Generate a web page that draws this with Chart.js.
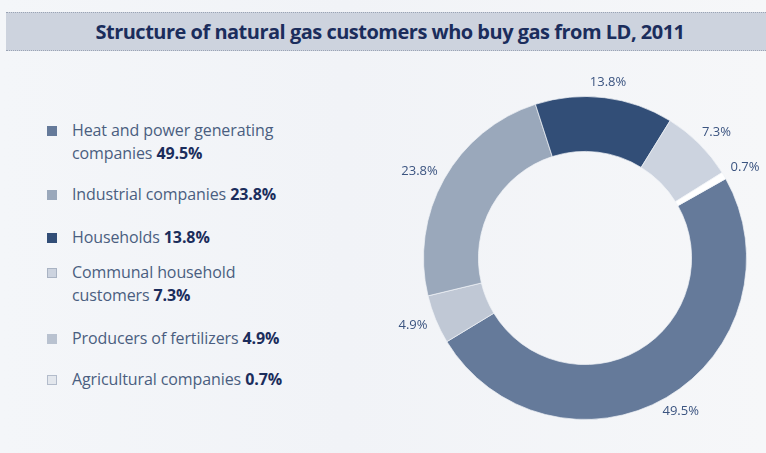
<!DOCTYPE html>
<html>
<head>
<meta charset="utf-8">
<script src="https://cdn.jsdelivr.net/npm/chart.js@4.4.0/dist/chart.umd.min.js"></script>
<style>
  html, body { margin: 0; padding: 0; }
  body {
    width: 766px; height: 453px; overflow: hidden; position: relative;
    background: linear-gradient(90deg, #f4f6f9 0%, #f1f3f7 45%, #f6f7f9 100%);
    font-family: "Open Sans", sans-serif;
  }
  #title {
    position: absolute; left: 6px; right: 0; top: 12px; height: 37px;
    background: #cdd3de;
    border-top: 1px dotted #9ba4b5; border-bottom: 1px dotted #9ba4b5;
    color: #1b2d5c; font-weight: 700; font-size: 20px; letter-spacing: -0.5px;
    text-align: center; line-height: 37px; padding-left: 8px;
  }
  #legend { position: absolute; left: 47px; top: 119px; width: 320px; }
  .row { position: relative; padding-left: 25px; color: #4a5e80; font-size: 16px; line-height: 23px; letter-spacing: -0.1px; }
  .row b { color: #1b2d5c; font-weight: 700; }
  .sw { position: absolute; left: 0; top: 7px; width: 10px; height: 10px; box-sizing: border-box; }
  #wrap { position: absolute; left: 395px; top: 60px; width: 380px; height: 396px; }
</style>
</head>
<body>
<div id="title">Structure of natural gas customers who buy gas from LD, 2011</div>
<div id="legend"></div>
<div id="wrap"><canvas id="myChart"></canvas></div>
<script>
// legend order
var categories = ["Heat and power generating companies", "Industrial companies", "Households",
  "Communal household customers", "Producers of fertilizers", "Agricultural companies"];
var shares = [49.5, 23.8, 13.8, 7.3, 4.9, 0.7];
var legendLines = [["Heat and power generating", "companies"], ["Industrial companies"], ["Households"],
  ["Communal household", "customers"], ["Producers of fertilizers"], ["Agricultural companies"]];
var sliceColors = ["#657a9a", "#9aa8bb", "#324e77", "#ccd3df", "#c0c8d5", "#ffffff"];
var swatchColors = ["#657a9a", "#9aa8bb", "#324e77", "#ccd3df", "#b9c2d0", "#e3e7ed"];
var swatchBorders = ["none", "none", "none", "1px solid #a9b3c3", "none", "1px solid #b3bccb"];
var rowGaps = [0, 18, 20, 12, 20, 18];
// order of slices round the ring, clockwise
var ringOrder = [0, 4, 1, 2, 3, 5];

var legend = document.getElementById("legend");
categories.forEach(function (c, i) {
  var row = document.createElement("div");
  row.className = "row";
  row.style.marginTop = rowGaps[i] + "px";
  var lines = legendLines[i];
  var html = '<span class="sw" style="background:' + swatchColors[i] + ';border:' + swatchBorders[i] + '"></span>';
  html += lines.slice(0, -1).map(function (l) { return l + "<br>"; }).join("");
  html += lines[lines.length - 1] + " <b>" + shares[i].toFixed(1) + "%</b>";
  row.innerHTML = html;
  legend.appendChild(row);
});

var outsideLabels = {
  id: "outsideLabels",
  afterDatasetsDraw: function (chart) {
    var ctx = chart.ctx;
    var meta = chart.getDatasetMeta(0);
    ctx.save();
    ctx.font = '13px "Open Sans"';
    ctx.fillStyle = "#3b5480";
    ctx.textAlign = "center";
    ctx.textBaseline = "middle";
    meta.data.forEach(function (arc, i) {
      var p = arc.getProps(["x", "y", "startAngle", "endAngle", "outerRadius"], true);
      var a = (p.startAngle + p.endAngle) / 2;
      var txt = chart.data.datasets[0].data[i].toFixed(1) + "%";
      var w = ctx.measureText(txt).width;
      var r = p.outerRadius + 10;
      var x = p.x + Math.cos(a) * (r + w / 2);
      var y = p.y + Math.sin(a) * (r + 6);
      ctx.fillText(txt, x, y);
    });
    ctx.restore();
  }
};

new Chart("myChart", {
  type: "doughnut",
  data: {
    labels: ringOrder.map(function (i) { return categories[i]; }),
    datasets: [{
      data: ringOrder.map(function (i) { return shares[i]; }),
      backgroundColor: ringOrder.map(function (i) { return sliceColors[i]; }),
      borderColor: "rgba(240,242,246,0.7)",
      borderWidth: 1
    }]
  },
  options: {
    responsive: true,
    maintainAspectRatio: false,
    animation: false,
    cutout: "66%",
    rotation: 60.6,
    layout: { padding: { left: 28, right: 28, top: 36, bottom: 36 } },
    plugins: {
      legend: { display: false },
      tooltip: { enabled: false }
    }
  },
  plugins: [outsideLabels]
});
</script>
</body>
</html>
